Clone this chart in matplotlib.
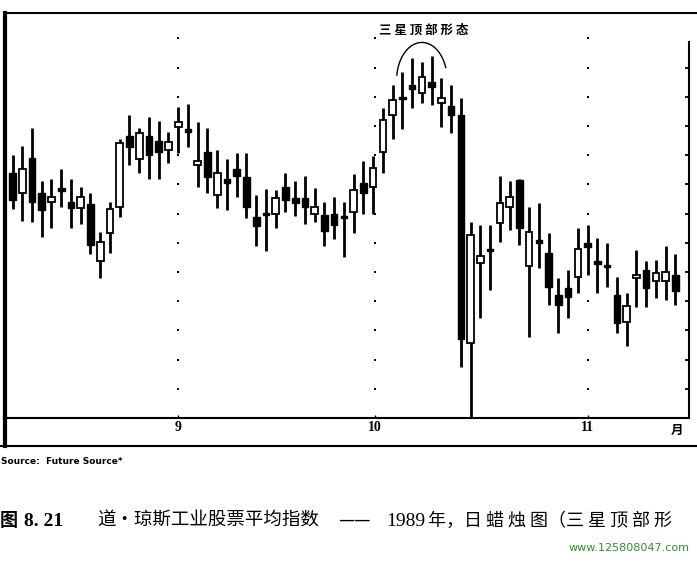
import matplotlib
matplotlib.use('Agg')
import matplotlib.pyplot as plt
from matplotlib.lines import Line2D
import numpy as np

# Dow Jones Industrials, daily candles Aug-Nov 1989
opens = [2710, 2693, 2723, 2693, 2685, 2697, 2685, 2680, 2683, 2634,
         2658, 2681, 2741, 2722, 2741, 2737, 2729, 2749, 2747, 2717,
         2728, 2691, 2705, 2713, 2706, 2672, 2675, 2675, 2698, 2688,
         2688, 2675, 2674, 2675, 2673, 2676, 2701, 2698, 2728, 2759,
         2774, 2785, 2778, 2788, 2770, 2767, 2759, 2564, 2633, 2645,
         2667, 2681, 2704, 2630, 2652, 2641, 2605, 2611, 2621, 2650,
         2634, 2631, 2605, 2582, 2620, 2627, 2617, 2617, 2622]
highs = [2725, 2733, 2748, 2703, 2705, 2713, 2705, 2698, 2693, 2659,
         2685, 2739, 2759, 2748, 2758, 2754, 2745, 2766, 2769, 2753,
         2748, 2729, 2722, 2727, 2727, 2691, 2696, 2695, 2710, 2703,
         2707, 2697, 2685, 2689, 2685, 2709, 2720, 2724, 2765, 2785,
         2796, 2808, 2805, 2810, 2791, 2785, 2774, 2668, 2665, 2665,
         2707, 2703, 2705, 2681, 2684, 2658, 2620, 2627, 2663, 2665,
         2654, 2650, 2621, 2607, 2644, 2634, 2635, 2647, 2640]
lows = [2679, 2669, 2668, 2655, 2663, 2681, 2663, 2666, 2640, 2620,
        2641, 2672, 2717, 2710, 2705, 2705, 2718, 2727, 2732, 2698,
        2693, 2680, 2678, 2689, 2671, 2647, 2643, 2663, 2676, 2673,
        2666, 2668, 2647, 2653, 2638, 2658, 2675, 2675, 2710, 2739,
        2747, 2765, 2770, 2768, 2749, 2744, 2544, 2497, 2586, 2610,
        2651, 2661, 2648, 2569, 2628, 2597, 2573, 2586, 2607, 2622,
        2607, 2612, 2573, 2562, 2595, 2595, 2603, 2601, 2597]
closes = [2687, 2713, 2685, 2678, 2689, 2694, 2680, 2689, 2648, 2651,
          2679, 2735, 2732, 2744, 2725, 2728, 2736, 2753, 2745, 2720,
          2706, 2710, 2701, 2707, 2681, 2664, 2674, 2688, 2687, 2684,
          2681, 2681, 2660, 2665, 2671, 2695, 2693, 2714, 2755, 2772,
          2773, 2782, 2792, 2783, 2774, 2759, 2568, 2657, 2639, 2643,
          2684, 2689, 2663, 2659, 2650, 2612, 2597, 2604, 2645, 2646,
          2632, 2629, 2581, 2596, 2622, 2611, 2624, 2625, 2609]

month_pos = [17, 37.2, 59]
month_labels = ['9', '10', '11']

days = np.arange(len(opens))
o = np.array(opens, float)
c = np.array(closes, float)

fig = plt.figure(figsize=(6.97, 5.64), dpi=100)
W, H = 697, 564
ax = fig.add_axes([5 / W, 1 - 418 / H, 684 / W, 405 / H])
ax.set_xlim(-0.77, 69.4)
ax.set_ylim(2500, 2846.7)

# wicks then bodies
ax.vlines(days, lows, highs, color='black', lw=2.0, zorder=2)
up = c >= o
bottom = np.minimum(o, c)
height = np.maximum(np.abs(c - o), 1.6)
ax.bar(days[up], height[up], bottom=bottom[up], width=0.68,
       color='white', edgecolor='black', lw=1.3, zorder=3)
ax.bar(days[~up], height[~up], bottom=bottom[~up], width=0.68,
       color='black', edgecolor='black', lw=1.0, zorder=3)

# dotted month grid
levels = np.arange(2525, 2826, 25)
gx, gy = np.meshgrid(month_pos, levels)
ax.scatter(gx.ravel(), gy.ravel(), s=1.5, marker='s', color='black', lw=0, zorder=1)

# axes styling
for s in ['left', 'top', 'bottom', 'right']:
    ax.spines[s].set_color('black')
ax.spines['left'].set_linewidth(3.0)
ax.spines['bottom'].set_linewidth(1.5)
ax.spines['right'].set_linewidth(1.5)
ax.spines['right'].set_bounds(2500, 2822)
ax.spines['top'].set_visible(False)

ax.yaxis.tick_right()
ax.set_yticks(np.arange(2525, 2801, 25))
ax.tick_params(axis='y', direction='in', length=3, width=1.3, labelright=False)
ax.set_xticks(month_pos)
ax.set_xticklabels(month_labels, fontfamily='Liberation Serif', fontweight='bold', fontsize=10)
ax.tick_params(axis='x', direction='in', length=2, width=1, pad=2)
ax.text(68.2, 2495, '月', family=['Noto Sans CJK SC', 'DejaVu Sans'], fontweight='bold',
        fontsize=9, ha='center', va='top', clip_on=False)

# three-star top annotation
t = np.radians(np.linspace(20, 172, 60))
ax.plot(42.0 + 2.6 * np.cos(t), 2789 + 32.5 * np.sin(t), color='black', lw=1.0)
ax.text(42.2, 2832, '三 星 顶 部 形 态', family=['Noto Sans CJK SC', 'DejaVu Sans'],
        fontweight='bold', fontsize=9, ha='center', va='center')

# outer frame lines
fig.add_artist(Line2D([5 / W, 1], [1 - 13 / H, 1 - 13 / H], color='black', lw=1.5))
fig.add_artist(Line2D([0, 1], [1 - 446 / H, 1 - 446 / H], color='black', lw=1.5))
fig.add_artist(Line2D([5 / W, 5 / W], [1 - 446 / H, 1 - 418 / H], color='black', lw=3.0))

fig.text(1 / W, 1 - 461 / H, 'Source:  Future Source*', fontsize=6.5, fontweight='bold',
         va='center', ha='left')
cap_font = ['Noto Sans CJK SC', 'DejaVu Sans']
cap_y = 1 - 521 / H
fig.text(0 / W, cap_y, '图', family=cap_font, fontweight='bold', fontsize=13,
         va='center', ha='left')
fig.text(24 / W, cap_y, '8. 21', family='Liberation Serif', fontweight='bold',
         fontsize=14, va='center', ha='left')
fig.text(97 / W, cap_y, '道·琼斯工业股票平均指数',
         family=cap_font, fontsize=13.3, va='center', ha='left')
fig.text(354 / W, cap_y, '——', family=cap_font, fontsize=13, va='center', ha='center')
fig.text(386 / W, cap_y, '1989', family='Liberation Serif', fontsize=14,
         va='center', ha='left')
fig.text(428 / W, cap_y, '年，日 蜡 烛 图（三 星 顶 部 形',
         family=cap_font, fontsize=13, va='center', ha='left')
fig.text(690 / W, 1 - 548 / H, 'www.125808047.com', color='#2f8f2f', fontsize=8,
         va='center', ha='right')

fig.savefig('out.png', dpi=100)
